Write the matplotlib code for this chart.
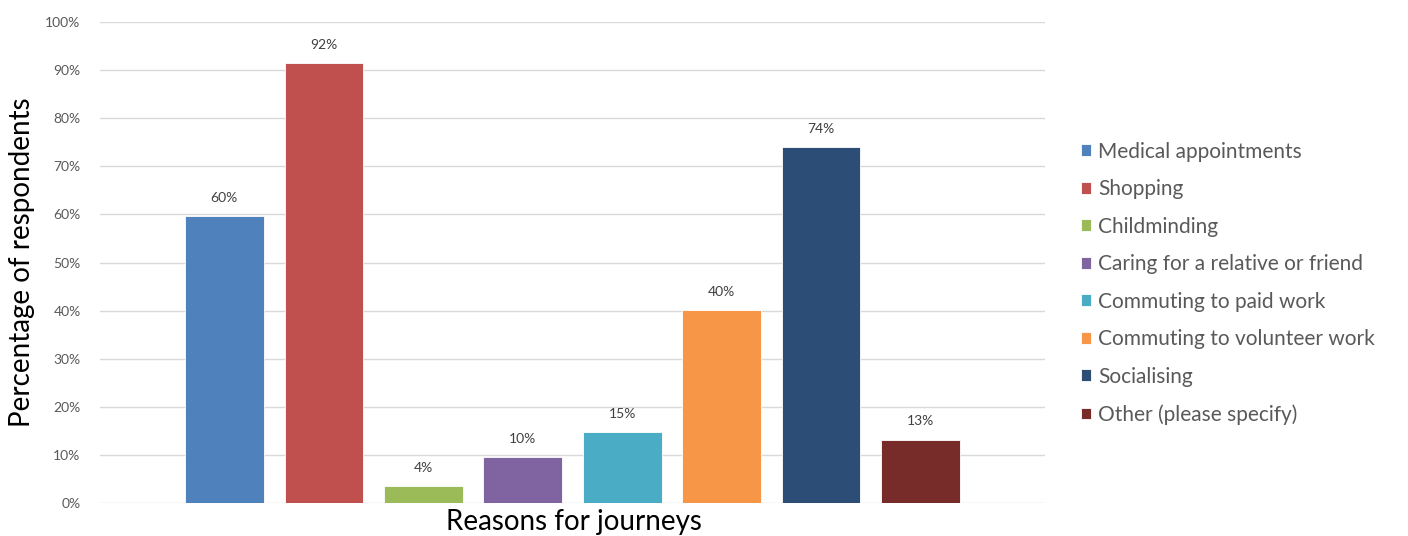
import matplotlib.pyplot as plt
import numpy as np

plt.rcParams['font.family'] = ['Lato', 'DejaVu Sans']

reasons = ['Medical appointments', 'Shopping', 'Childminding',
           'Caring for a relative or friend', 'Commuting to paid work',
           'Commuting to volunteer work', 'Socialising', 'Other (please specify)']
values = [59.7, 91.5, 3.6, 9.5, 14.8, 40.1, 74.1, 13.2]
labels = ['60%', '92%', '4%', '10%', '15%', '40%', '74%', '13%']
colors = ['#4F81BD', '#C0504D', '#9BBB59', '#8064A2',
          '#4BACC6', '#F79646', '#2C4D75', '#772C2A']

fig = plt.figure(figsize=(14.08, 5.36), dpi=100)
ax = fig.add_axes([100 / 1408, 1 - 503 / 536, 945 / 1408, 481 / 536])

x = np.arange(len(values))
for i in range(len(values)):
    ax.bar(x[i], values[i], width=0.79, color=colors[i], label=reasons[i],
           edgecolor='white', linewidth=0.6, zorder=3)
    ax.text(x[i], values[i] + 2.5, labels[i], ha='center', va='bottom',
            fontsize=10, color='#404040')

ax.set_xlim(-1.25, 8.25)
ax.set_ylim(0, 100)
ax.set_yticks(np.arange(0, 101, 10))
ax.set_yticklabels(['{}%'.format(v) for v in range(0, 101, 10)])
ax.set_xticks([])
ax.tick_params(axis='y', length=0, pad=14, labelsize=10, labelcolor='#595959')
ax.grid(axis='y', color='#D9D9D9', linewidth=1, zorder=0)
for s in ax.spines.values():
    s.set_visible(False)

fig.text(22 / 1408, 1 - 262 / 536, 'Percentage of respondents', rotation=90,
         ha='center', va='center', fontsize=20, color='black')
fig.text(574 / 1408, 1 - 522 / 536, 'Reasons for journeys',
         ha='center', va='center', fontsize=20, color='black')

fig.legend(loc='upper left', bbox_to_anchor=(1062 / 1408, 1 - 123 / 536),
           frameon=False, fontsize=15, labelcolor='#595959',
           handlelength=0.5, handleheight=0.5, handletextpad=0.35,
           labelspacing=0.84)

fig.savefig('out.png', dpi=100)
